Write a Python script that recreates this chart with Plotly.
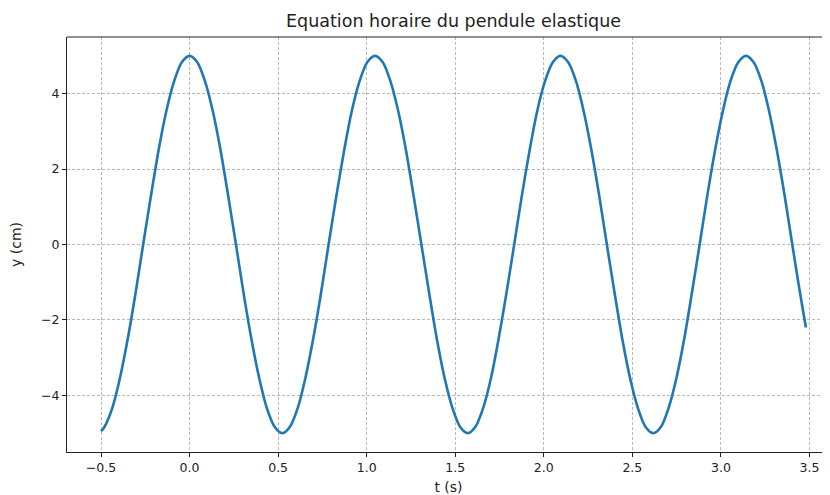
import plotly.graph_objects as go

# Values (time in s, elongation in cm)
t_values = [-0.500, -0.480, -0.436, -0.393, -0.349, -0.305, -0.262, -0.218, -0.175, -0.131,
            -0.087, -0.044, 0.000, 0.044, 0.087, 0.131, 0.175, 0.218, 0.262, 0.305,
            0.349, 0.393, 0.436, 0.480, 0.524, 0.567, 0.611, 0.654, 0.698, 0.742,
            0.785, 0.829, 0.873, 0.916, 0.960, 1.003, 1.047, 1.091, 1.134, 1.178,
            1.222, 1.265, 1.309, 1.353, 1.396, 1.440, 1.484, 1.527, 1.571, 1.614,
            1.658, 1.702, 1.745, 1.789, 1.833, 1.876, 1.920, 1.963, 2.007, 2.051,
            2.094, 2.138, 2.182, 2.225, 2.269, 2.313, 2.356, 2.400, 2.443, 2.487,
            2.531, 2.574, 2.618, 2.662, 2.705, 2.749, 2.793, 2.836, 2.880, 2.923,
            2.967, 3.011, 3.054, 3.098, 3.142, 3.185, 3.229, 3.272, 3.316, 3.360,
            3.403, 3.447, 3.480]
y_values = [-4.95, -4.83, -4.33, -3.54, -2.50, -1.29, 0.00, 1.29, 2.50, 3.54,
            4.33, 4.83, 5.00, 4.83, 4.33, 3.54, 2.50, 1.29, 0.00, -1.29,
            -2.50, -3.54, -4.33, -4.83, -5.00, -4.83, -4.33, -3.54, -2.50, -1.29,
            0.00, 1.29, 2.50, 3.54, 4.33, 4.83, 5.00, 4.83, 4.33, 3.54,
            2.50, 1.29, 0.00, -1.29, -2.50, -3.54, -4.33, -4.83, -5.00, -4.83,
            -4.33, -3.54, -2.50, -1.29, 0.00, 1.29, 2.50, 3.54, 4.33, 4.83,
            5.00, 4.83, 4.33, 3.54, 2.50, 1.29, 0.00, -1.29, -2.50, -3.54,
            -4.33, -4.83, -5.00, -4.83, -4.33, -3.54, -2.50, -1.29, 0.00, 1.29,
            2.50, 3.54, 4.33, 4.83, 5.00, 4.83, 4.33, 3.54, 2.50, 1.29,
            0.00, -1.29, -2.20]

x_ticks = [-0.5, 0.0, 0.5, 1.0, 1.5, 2.0, 2.5, 3.0, 3.5]
x_tick_labels = ["−0.5", "0.0", "0.5", "1.0", "1.5", "2.0", "2.5", "3.0", "3.5"]
y_ticks = [-4, -2, 0, 2, 4]
y_tick_labels = ["−4", "−2", "0", "2", "4"]

title_text = "Equation horaire du pendule elastique"
x_label = "t (s)"
y_label = "y (cm)"

fig = go.Figure()
fig.add_trace(go.Scatter(
    x=t_values, y=y_values, mode="lines",
    line=dict(color="#1f77b4", width=2.6, shape="spline", smoothing=0.8),
    hoverinfo="skip", showlegend=False,
))

ink = "#222222"
font = dict(family="DejaVu Sans", size=12.5, color=ink)

# The page body has an 8px margin, so the figure is 8px smaller than the window
fig.update_layout(
    width=822, height=487,
    margin=dict(l=59, r=0, t=29, b=43, autoexpand=False),
    paper_bgcolor="white", plot_bgcolor="white",
    font=font,
    showlegend=False,
)
grid = dict(showgrid=True, gridcolor="#b8b8b8", gridwidth=0.8, griddash="3px,2px")
fig.update_xaxes(
    range=[-0.692, 3.616], automargin=False,
    tickvals=x_ticks, ticktext=x_tick_labels,
    ticks="outside", ticklen=4, tickwidth=1, tickcolor=ink,
    showline=True, linecolor=ink, linewidth=1.2, mirror=False,
    zeroline=False, **grid,
    title=dict(text=x_label, standoff=8, font=dict(family="DejaVu Sans", size=14, color=ink)),
)
fig.update_yaxes(
    range=[-5.5, 5.5], automargin=False,
    tickvals=y_ticks, ticktext=y_tick_labels,
    ticks="outside", ticklen=4, tickwidth=1, tickcolor=ink,
    showline=True, linecolor=ink, linewidth=1.2, mirror=False,
    zeroline=False, **grid,
    title=dict(text=y_label, standoff=16, font=dict(family="DejaVu Sans", size=14, color=ink)),
)
# top frame line
fig.add_shape(type="line", xref="paper", yref="paper", x0=0, x1=1, y0=1, y1=1,
              line=dict(color=ink, width=1.2))
fig.add_annotation(
    text=title_text, xref="paper", yref="paper", x=(445.5 - 59) / 763, y=1,
    yshift=16, xanchor="center", yanchor="middle", showarrow=False,
    font=dict(family="DejaVu Sans", size=17.5, color=ink),
)

fig.write_html("out.html")
